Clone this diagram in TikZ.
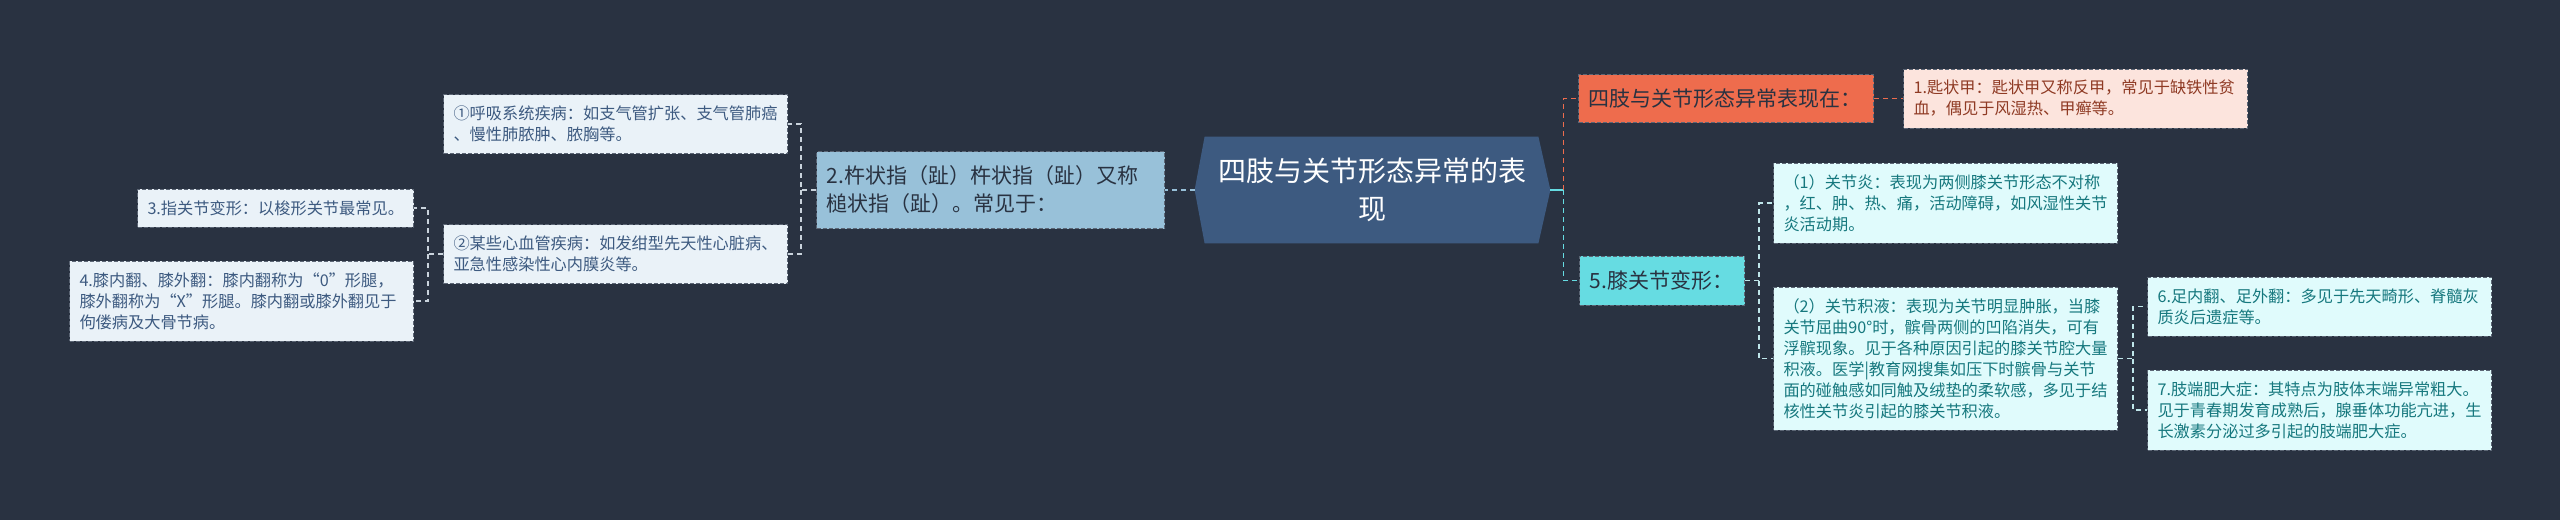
\documentclass[tikz,border=0pt]{standalone}
\usepackage{fontspec}
\setmainfont{Noto Sans CJK SC}
\usetikzlibrary{backgrounds}

\definecolor{bgdark}{HTML}{293241}
\definecolor{rootblue}{HTML}{3D5A80}
\definecolor{midblue}{HTML}{98C1D9}
\definecolor{paleblue}{HTML}{EAF2F8}
\definecolor{tomato}{HTML}{EE6C4D}
\definecolor{palepink}{HTML}{FCE4DD}
\definecolor{pinktext}{HTML}{8F3A24}
\definecolor{cyanbox}{HTML}{66DCE2}
\definecolor{palecyan}{HTML}{E0FBFC}
\definecolor{tealtext}{HTML}{16787E}
\definecolor{edgegray}{HTML}{5C6675}
\definecolor{linkgray}{HTML}{C9D3DC}
\definecolor{linkcyan}{HTML}{BFE6EA}

\begin{document}
\begin{tikzpicture}[x=0.5pt,y=-0.5pt,
        roottext/.style={minimum width=177.5pt, minimum height=53pt, inner sep=0pt, text=white, align=center, font=\fontsize{14}{19}\selectfont},
        box/.style={draw=edgegray, line width=0.5pt, dash pattern=on 2pt off 1pt, rectangle, inner xsep=5pt, inner ysep=2pt, align=left, anchor=west},
        midnode/.style={box, font=\fontsize{10.5}{14}\selectfont, text=bgdark},
        leaf/.style={box, font=\fontsize{8.1}{10.5}\selectfont, text width=162pt},
        leafL/.style={leaf, fill=paleblue, text=rootblue},
        leafP/.style={leaf, fill=palepink, text=pinktext},
        leafC/.style={leaf, fill=palecyan, text=tealtext},
        link/.style={line width=0.8pt, dash pattern=on 2.5pt off 2pt}]

        \useasboundingbox (0,0) rectangle (2560,520);

        % root
        \node[roottext] (root) at (1372.5,190) {四肢与关节形态异常的表\\现};

        % left branch
        \node[midnode, fill=midblue, minimum height=38.5pt, text width=164pt] (n2) at (816,190) {2.杵状指（趾）杵状指（趾）又称\\槌状指（趾）。常见于：};
        \node[leafL, minimum height=29.5pt] (c1) at (443,124) {①呼吸系统疾病：如支气管扩张、支气管肺癌\\、慢性肺脓肿、脓胸等。};
        \node[leafL, minimum height=29.5pt] (c2) at (443,254) {②某些心血管疾病：如发绀型先天性心脏病、\\亚急性感染性心内膜炎等。};
        \node[leafL, minimum height=19pt, text width=128pt] (d3) at (137,208) {3.指关节变形：以梭形关节最常见。};
        \node[leafL, minimum height=40pt] (d4) at (69,301) {4.膝内翻、膝外翻：膝内翻称为“0”形腿，\\膝外翻称为“X”形腿。膝内翻或膝外翻见于\\佝偻病及大骨节病。};

        % right branch
        \node[midnode, fill=tomato, minimum height=24pt, text width=137.5pt] (o1) at (1578,98.5) {四肢与关节形态异常表现在：};
        \node[leafP, minimum height=29.5pt] (p1) at (1903,98.5) {1.匙状甲：匙状甲又称反甲，常见于缺铁性贫\\血，偶见于风湿热、甲癣等。};
        \node[midnode, fill=cyanbox, minimum height=24.5pt, text width=72.5pt] (k5) at (1579,280.5) {5.膝关节变形：};
        \node[leafC, minimum height=40pt] (k1) at (1773,203) {（1）关节炎：表现为两侧膝关节形态不对称\\，红、肿、热、痛，活动障碍，如风湿性关节\\炎活动期。};
        \node[leafC, minimum height=71.5pt] (k2) at (1773,358.5) {（2）关节积液：表现为关节明显肿胀，当膝\\关节屈曲90°时，髌骨两侧的凹陷消失，可有\\浮髌现象。见于各种原因引起的膝关节腔大量\\积液。医学|教育网搜集如压下时髌骨与关节\\面的碰触感如同触及绒垫的柔软感，多见于结\\核性关节炎引起的膝关节积液。};
        \node[leafC, minimum height=29.5pt] (k6) at (2147,306.5) {6.足内翻、足外翻：多见于先天畸形、脊髓灰\\质炎后遗症等。};
        \node[leafC, minimum height=40pt] (k7) at (2147,410) {7.肢端肥大症：其特点为肢体末端异常粗大。\\见于青春期发育成熟后，腺垂体功能亢进，生\\长激素分泌过多引起的肢端肥大症。};

        % bracket points
        \coordinate (jR) at ([xshift=6.5pt]root.east);
        \coordinate (bL1) at ([xshift=-7.5pt]n2.west);
        \coordinate (bL2) at ([xshift=-7.5pt]c2.west);
        \coordinate (bR1) at ([xshift=7pt]k5.east);
        \coordinate (bR2) at ([xshift=7.5pt]k2.east);

        % left links
        \draw[link, midblue] (root.west) -- (n2.east);
        \draw[link, linkgray] (n2.west) -- (bL1) |- (c1.east);
        \draw[link, linkgray] (bL1) |- (c2.east);
        \draw[link, linkgray] (c2.west) -- (bL2) |- (d3.east);
        \draw[link, linkgray] (bL2) |- (d4.east);

        % right links
        \draw[cyanbox, line width=0.8pt] (root.east) -- (jR);
        \draw[link, tomato] (jR) |- (o1.west);
        \draw[link, cyanbox] (jR) |- (k5.west);
        \draw[link, tomato] (o1.east) -- (p1.west);
        \draw[link, linkcyan] (k5.east) -- (bR1) |- (k1.west);
        \draw[link, linkcyan] (bR1) |- (k2.west);
        \draw[link, linkcyan] (k2.east) -- (bR2) |- (k6.west);
        \draw[link, linkcyan] (bR2) |- (k7.west);

        % background and hexagon
        \begin{scope}[on background layer]
            \fill[bgdark] (0,0) rectangle (2560,520);
            \fill[rootblue] (root.west) -- ([xshift=5pt]root.north west) -- ([xshift=-6pt]root.north east) -- (root.east)
                -- ([xshift=-6pt]root.south east) -- ([xshift=5pt]root.south west) -- cycle;
        \end{scope}
    \end{tikzpicture}
\end{document}
